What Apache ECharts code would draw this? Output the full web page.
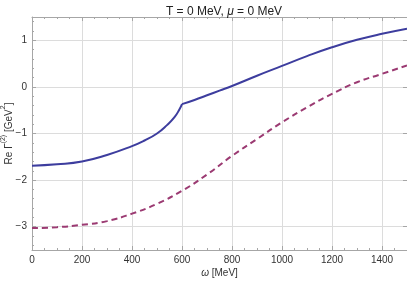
<!DOCTYPE html>
<html>
<head>
<meta charset="utf-8">
<script src="https://cdn.jsdelivr.net/npm/echarts@6/dist/echarts.min.js"></script>
<style>html,body{margin:0;padding:0;background:#fff}#c{width:407px;height:281px}</style>
</head>
<body>
<div id="c"></div>
<script>
// Data
var omegaSolid = [0,100,200,300,400,450,500,540,570,590,600,650,700,750,800,900,1000,1100,1200,1300,1400,1500];
var solidVals  = [-1.69,-1.66,-1.60,-1.46,-1.27,-1.15,-1.00,-0.82,-0.65,-0.48,-0.37,-0.28,-0.18,-0.08,0.02,0.24,0.45,0.66,0.85,1.01,1.14,1.25];
var omegaDashed = [0,100,200,300,400,500,600,700,800,900,1000,1100,1200,1300,1400,1500];
var dashedVals  = [-3.03,-3.01,-2.96,-2.88,-2.72,-2.51,-2.23,-1.88,-1.48,-1.12,-0.76,-0.44,-0.15,0.10,0.28,0.46];
var cuspOmega = 600;
var yTicks = [-3,-2,-1,0,1];
var xMin = 0, xMax = 1500, yMin = -3.5, yMax = 1.5;

var yMinor = [];
for (var k = -17; k <= 7; k++) { var v = Math.round(k*0.2*10)/10; if (Math.abs(v - Math.round(v)) > 1e-6) yMinor.push(v); }

function pairs(xs, ys){ return xs.map(function(x,i){ return [x, ys[i]]; }); }
var solidPairs = pairs(omegaSolid, solidVals);
var solidLeft = solidPairs.filter(function(p){ return p[0] <= cuspOmega; });
var solidRight = solidPairs.filter(function(p){ return p[0] >= cuspOmega; });

var frame = '#a6a6a6', gridC = '#dcdcdc', txt = '#333';
var chart = echarts.init(document.getElementById('c'), null, {renderer:'canvas'});
chart.setOption({
  animation: false,
  backgroundColor: '#fff',
  title: {
    text: '{n|T = 0 MeV, }{i|μ}{n| = 0 MeV}',
    left: 219, top: 1, textAlign: 'center',
    textStyle: { fontWeight:'normal', rich: {
      n: {fontFamily:'Liberation Sans', fontSize:12, fontWeight:'normal', color:'#222'},
      i: {fontFamily:'Liberation Sans', fontSize:12, fontWeight:'normal', fontStyle:'italic', color:'#222'}
    }}
  },
  grid: { left: 32, right: 0, top: 17, bottom: 31, containLabel: false, outerBoundsMode: 'none' },
  xAxis: [{
    type: 'value', position: 'bottom', min: xMin, max: xMax, interval: 200,
    axisLine: {show:true, onZero:false, lineStyle:{color:frame}},
    axisTick: {show:true, inside:true, length:4, lineStyle:{color:frame}},
    minorTick: {show:true, splitNumber:4, length:2, lineStyle:{color:frame}},
    axisLabel: {fontFamily:'Liberation Sans', fontSize:10, color:txt, margin:5, showMaxLabel:false,
      formatter: function(v){ return String(v); }},
    splitLine: {show:true, lineStyle:{color:gridC, width:1}},
    name: '{i|ω}{n| [MeV]}', nameLocation:'middle', nameGap: 18, nameMoveOverlap: false,
    nameTextStyle: {rich:{
      i:{fontFamily:'Liberation Sans', fontSize:10, fontStyle:'italic', color:txt},
      n:{fontFamily:'Liberation Sans', fontSize:10, color:txt}
    }}
  },{
    type: 'value', position: 'top', min: xMin, max: xMax, interval: 200,
    axisLine: {show:true, onZero:false, lineStyle:{color:frame}},
    axisTick: {show:true, inside:true, length:4, lineStyle:{color:frame}},
    minorTick: {show:true, splitNumber:4, length:2, lineStyle:{color:frame}},
    axisLabel: {show:false}, splitLine: {show:false}
  }],
  yAxis: [{
    type: 'value', position: 'left', min: yMin, max: yMax,
    axisLine: {show:true, onZero:false, lineStyle:{color:frame}},
    axisTick: {show:true, inside:true, length:4, lineStyle:{color:frame}, customValues: yTicks},
    axisLabel: {fontFamily:'Liberation Sans', fontSize:10, color:txt, margin:5, customValues: yTicks,
      formatter: function(v){ return v < 0 ? '\u2212' + Math.abs(v) : String(v); }},
    splitLine: {show:true, lineStyle:{color:gridC, width:1}},
    name: '{n|Re Γ}{s|(2)}{n| [GeV}{s|2}{n|]}', nameLocation:'middle', nameGap: 18, nameRotate: 90,
    nameMoveOverlap: false,
    nameTextStyle: {rich:{
      n:{fontFamily:'Liberation Sans', fontSize:10, color:txt, verticalAlign:'bottom', lineHeight:14},
      s:{fontFamily:'Liberation Sans', fontSize:7, color:txt, verticalAlign:'top', lineHeight:14}
    }}
  },{
    type: 'value', position: 'left', min: yMin, max: yMax,
    axisLine: {show:false, onZero:false},
    axisTick: {show:true, inside:true, length:2, lineStyle:{color:frame}, customValues: yMinor},
    axisLabel: {show:false}, splitLine: {show:false}
  },{
    type: 'value', position: 'right', min: yMin, max: yMax,
    axisLine: {show:false, onZero:false},
    axisTick: {show:true, inside:true, length:4, lineStyle:{color:frame}, customValues: yTicks},
    axisLabel: {show:false}, splitLine: {show:false}
  }],
  series: [{
    type: 'line', xAxisIndex:0, yAxisIndex:0, data: solidLeft,
    smooth: 0.5, showSymbol: false, clip: true,
    lineStyle: {color:'#3d3d9e', width:2}
  },{
    type: 'line', xAxisIndex:0, yAxisIndex:0, data: solidRight,
    smooth: 0.5, showSymbol: false, clip: true,
    lineStyle: {color:'#3d3d9e', width:2}
  },{
    type: 'line', xAxisIndex:0, yAxisIndex:0, data: pairs(omegaDashed, dashedVals),
    smooth: 0.5, showSymbol: false, clip: true,
    lineStyle: {color:'#9b3a72', width:2, type:[6,4]}
  }]
});
</script>
</body>
</html>
